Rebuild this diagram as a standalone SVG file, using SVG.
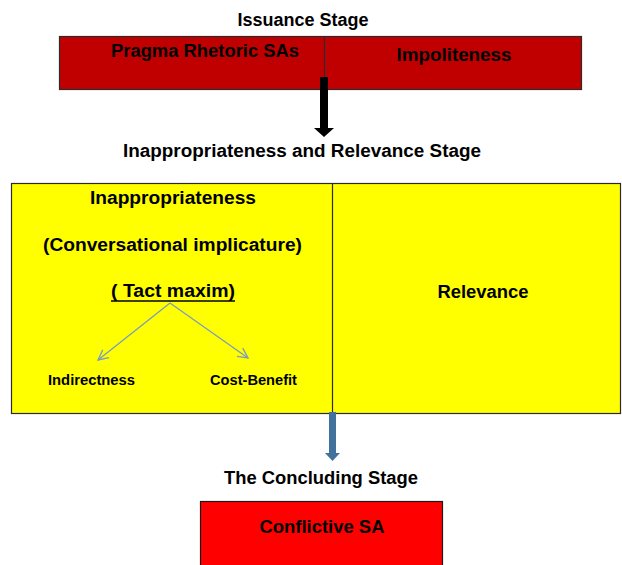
<svg xmlns="http://www.w3.org/2000/svg" width="622" height="565" viewBox="0 0 622 565">
<style>
text{font-family:"Liberation Sans",Arial,sans-serif;font-weight:bold;font-size:17.5px;fill:#000;text-anchor:middle}
.sm{font-size:14.5px}
.box{stroke:#2b2b2b;stroke-width:1.2}
.div{stroke:#2b2b2b;stroke-width:1.2}
.thin{stroke:#7a9cc0;stroke-width:1.3;fill:none}
</style>
<defs>
<marker id="open" viewBox="0 0 12 12" refX="11" refY="6" markerWidth="12" markerHeight="12" markerUnits="userSpaceOnUse" orient="auto">
<path d="M1,1 L11,6 L1,11" fill="none" stroke="#7a9cc0" stroke-width="1.3"/>
</marker>
</defs>
<rect width="622" height="565" fill="#fff"/>
<text x="303" y="26" textLength="131" lengthAdjust="spacingAndGlyphs">Issuance Stage</text>
<g id="issuance">
<rect class="box" x="59.5" y="36.5" width="522" height="53" fill="#C00000"/>
<line class="div" x1="324.5" y1="36.5" x2="324.5" y2="89.5"/>
<text x="205" y="57" textLength="188" lengthAdjust="spacingAndGlyphs">Pragma Rhetoric SAs</text>
<text x="454" y="61" textLength="115" lengthAdjust="spacingAndGlyphs">Impoliteness</text>
</g>
<text x="302" y="157" textLength="358" lengthAdjust="spacingAndGlyphs">Inappropriateness and Relevance Stage</text>
<g id="inappropriateness-relevance">
<rect class="box" x="11.5" y="183.5" width="609" height="230" fill="#FFFF00"/>
<line class="div" x1="332.5" y1="183.5" x2="332.5" y2="413.5"/>
<text x="173" y="204" textLength="166" lengthAdjust="spacingAndGlyphs">Inappropriateness</text>
<text x="172.5" y="251" textLength="259" lengthAdjust="spacingAndGlyphs">(Conversational implicature)</text>
<text x="173" y="297" textLength="124" lengthAdjust="spacingAndGlyphs">( Tact maxim)</text>
<line x1="111" y1="301" x2="235" y2="301" stroke="#000" stroke-width="1.5"/>
<text x="483" y="298" textLength="91" lengthAdjust="spacingAndGlyphs">Relevance</text>
</g>
<g id="indirectness"><text class="sm" x="91.5" y="385" textLength="87" lengthAdjust="spacingAndGlyphs">Indirectness</text></g>
<g id="cost-benefit"><text class="sm" x="253.5" y="385" textLength="87" lengthAdjust="spacingAndGlyphs">Cost-Benefit</text></g>
<text x="321" y="484" textLength="194" lengthAdjust="spacingAndGlyphs">The Concluding Stage</text>
<g id="conflictive">
<rect x="200.5" y="501.5" width="242" height="70" fill="#FF0000" stroke="#1a1a1a" stroke-width="1.2"/>
<text x="322" y="533" textLength="125" lengthAdjust="spacingAndGlyphs">Conflictive SA</text>
</g>
<g id="connectors">
<path d="M320,77 H328 V128 H334 L324,137 L314,128 H320 Z" fill="#000"/>
<line class="thin" x1="170" y1="303" x2="98" y2="360" marker-end="url(#open)"/>
<line class="thin" x1="170" y1="303" x2="248" y2="358" marker-end="url(#open)"/>
<path d="M329,412 H336 V453 H340 L332.5,461 L325,453 H329 Z" fill="#41719C"/>
</g>
</svg>
